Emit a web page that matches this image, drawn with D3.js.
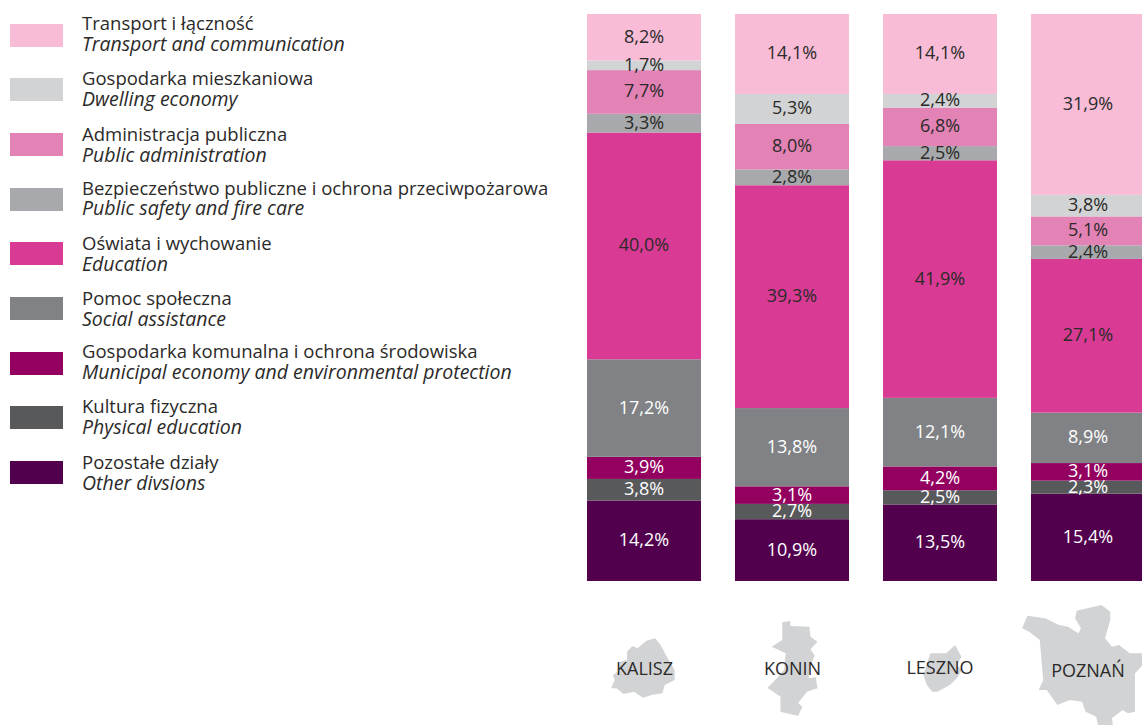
<!DOCTYPE html>
<html><head><meta charset="utf-8">
<script src="https://cdn.jsdelivr.net/npm/d3@7"></script>
<style>html,body{margin:0;padding:0;background:#fff}svg{display:block}text{font-family:"Open Sans",sans-serif;fill:#2b2a29}</style>
</head><body><svg id="c" width="1142" height="725"></svg>
<script>
const cities = ["KALISZ","KONIN","LESZNO","POZNAŃ"];
const keys = ["other","physical","municipal","social","education","safety","admin","dwelling","transport"];
const labelsPl = ["Pozostałe działy","Kultura fizyczna","Gospodarka komunalna i ochrona środowiska","Pomoc społeczna","Oświata i wychowanie","Bezpieczeństwo publiczne i ochrona przeciwpożarowa","Administracja publiczna","Gospodarka mieszkaniowa","Transport i łączność"];
const labelsEn = ["Other divsions","Physical education","Municipal economy and environmental protection","Social assistance","Education","Public safety and fire care","Public administration","Dwelling economy","Transport and communication"];
const colors = ["#52004e","#58595b","#93005f","#808285","#d93a94","#a7a9ac","#e382b5","#d1d3d4","#f8bcd7"];
const textColors = ["#fff","#fff","#fff","#fff","#2b2a29","#2b2a29","#2b2a29","#2b2a29","#2b2a29"];
const other = [14.2,10.9,13.5,15.4];
const physical = [3.8,2.7,2.5,2.3];
const municipal = [3.9,3.1,4.2,3.1];
const social = [17.2,13.8,12.1,8.9];
const education = [40.0,39.3,41.9,27.1];
const safety = [3.3,2.8,2.5,2.4];
const admin = [7.7,8.0,6.8,5.1];
const dwelling = [1.7,5.3,2.4,3.8];
const transport = [8.2,14.1,14.1,31.9];
const legendTops = [461,406,352,297,242,188,133,78,24];
const legendText = [469,413,358,305,250,195,141,85,30];
const legendItalic = [490,434,379,326,271,215,162,106,51];
const outlineKalisz = [[105,185],[120,168],[135,175],[160,152],[185,145],[200,165],[218,200],[240,240],[240,270],[212,285],[205,310],[175,315],[150,323],[125,305],[95,312],[75,295],[60,295],[70,270],[65,255],[85,240],[85,215],[105,210]];
const outlineKonin = [[545,97],[568,93],[568,108],[622,110],[625,140],[645,155],[625,178],[637,197],[625,225],[620,262],[610,275],[580,270],[640,262],[645,295],[615,305],[590,340],[602,350],[590,378],[540,365],[540,320],[503,293],[530,265],[550,240],[555,190],[515,170],[545,150]];
const outlineLeszno = [[1035,165],[1053,200],[1040,225],[1055,240],[1040,265],[1020,285],[985,305],[970,305],[955,285],[945,255],[965,190],[1010,190]];
const outlinePoznan = [[1240,77],[1290,85],[1330,105],[1355,110],[1385,130],[1392,115],[1375,85],[1380,62],[1450,45],[1475,65],[1475,90],[1460,145],[1480,170],[1500,165],[1530,190],[1568,190],[1568,225],[1545,250],[1545,300],[1545,365],[1525,370],[1510,360],[1480,385],[1482,405],[1440,405],[1435,380],[1405,365],[1395,335],[1360,330],[1325,345],[1295,300],[1272,300],[1285,270],[1275,150],[1245,125],[1225,115]];
const outlines = [outlineKalisz,outlineKonin,outlineLeszno,outlinePoznan];

const table = cities.map((c,i)=>({city:c,other:other[i],physical:physical[i],municipal:municipal[i],social:social[i],education:education[i],safety:safety[i],admin:admin[i],dwelling:dwelling[i],transport:transport[i]}));
const svg = d3.select("#c");
const x = d3.scaleBand().domain(cities).range([587,1145]).paddingInner(34/148);
const y = d3.scaleLinear().domain([0,100]).range([581,14]);
const series = d3.stack().keys(keys)(table);
const fmt = v => v.toFixed(1).replace(".",",")+"%";

const line = d3.line().x(d=>590+d[0]/2.835).y(d=>590+d[1]/3);
svg.selectAll("path.m").data(outlines).join("path").attr("class","m").attr("d",d=>line(d)+"Z").attr("fill","#d1d3d4");

const flat = series.flatMap(s=>s.map(p=>({p,key:s.key})));
svg.append("g").selectAll("rect").data(flat).join("rect")
  .attr("x",d=>x(d.p.data.city)).attr("width",x.bandwidth())
  .attr("y",d=>y(d.p[1])).attr("height",d=>y(d.p[0])-y(d.p[1]))
  .attr("fill",d=>colors[keys.indexOf(d.key)]);
svg.append("g").selectAll("text").data(flat).join("text")
  .attr("x",d=>x(d.p.data.city)+x.bandwidth()/2)
  .attr("y",d=>(y(d.p[0])+y(d.p[1]))/2-1)
  .attr("dy","0.36em").attr("text-anchor","middle").attr("font-size",18)
  .style("fill",d=>textColors[keys.indexOf(d.key)])
  .text(d=>fmt(d.p[1]-d.p[0]));

const lg = svg.selectAll("g.l").data(keys).join("g").attr("class","l");
lg.append("rect").attr("x",10).attr("y",(d,i)=>legendTops[i]).attr("width",53).attr("height",23).attr("fill",(d,i)=>colors[i]);
lg.append("text").attr("x",82).attr("y",(d,i)=>legendText[i]).attr("font-size",18.5).text((d,i)=>labelsPl[i]);
lg.append("text").attr("x",82).attr("y",(d,i)=>legendItalic[i]).attr("font-size",19.5).attr("font-style","italic").text((d,i)=>labelsEn[i]);

const capX=[644.5,792.5,940,1088], capY=[669,669,668,671];
svg.selectAll("text.c").data(cities).join("text").attr("class","c")
  .attr("x",(d,i)=>capX[i]).attr("y",(d,i)=>capY[i]).attr("dy","0.36em").attr("text-anchor","middle").attr("font-size",18).text(d=>d);
</script></body></html>
